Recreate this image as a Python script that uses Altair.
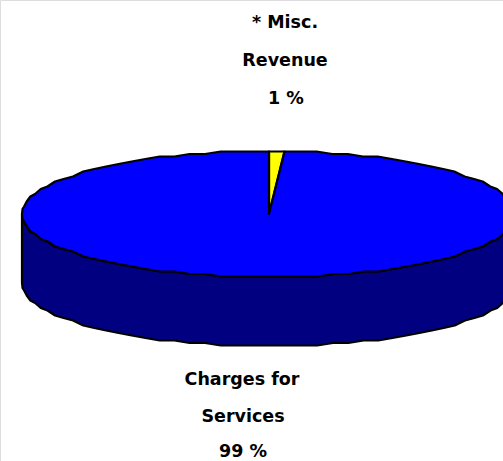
import altair as alt
import numpy as np

# Revenue shares, clockwise from twelve o'clock
categories = ["Misc. Revenue", "Charges for Services"]
shares = [1, 99]
slice_colors = ["#FFFF00", "#0000FF"]
side_color = "#000080"

# Disc proportions: face height / width and rim depth, both as fractions of the radius
FLATTEN = 63 / 247
RIM = 69 / 247
# Rim heights snap to a coarse grid, which gives the outline its stepped edge
GRID = 2.5 / 247
SEGMENTS_PER_TURN = 96

# Text lines with their centre and baseline in pixels
label_lines = [
    ("* Misc.", 285, 28), ("Revenue", 285, 66), ("1 %", 286, 104),
    ("Charges for", 242, 385), ("Services", 243, 422), ("99 %", 243, 457),
]


def rim_point(turn, drop=0.0):
    angle = 2 * np.pi * turn
    x = np.sin(angle)
    y = FLATTEN * np.cos(angle)
    return [float(x), float(np.round(y / GRID) * GRID - drop)]


def polygon(ring, name):
    return {"type": "Feature", "properties": {"name": name},
            "geometry": {"type": "Polygon", "coordinates": [ring + [ring[0]]]}}


def wedge(start, end, name):
    steps = max(2, int(round((end - start) * SEGMENTS_PER_TURN)))
    arc = [rim_point(t) for t in np.linspace(start, end, steps + 1)]
    return polygon([[0.0, 0.0]] + arc, name)


# Front wall of the disc: lower half of the rim swept down by the depth
front = np.linspace(0.25, 0.75, SEGMENTS_PER_TURN // 2 + 1)
wall = [rim_point(t) for t in front] + [rim_point(t, RIM) for t in front[::-1]]

features = [polygon(wall, "side")]
colors = [side_color]
total = sum(shares)
start = 0.0
for name, share, color in zip(categories, shares, slice_colors):
    end = start + share / total
    features.append(wedge(start, end, name))
    colors.append(color)
    start = end

layers = []
for feature, color in zip(features, colors):
    layers.append(
        alt.Chart(alt.Data(values=[feature]))
        .mark_geoshape(fill=color, stroke="#000000", strokeWidth=2.2, strokeJoin="round")
        .project(type="identity", scale=247, translate=[269, 214], reflectY=True)
    )

for text, x, y in label_lines:
    layers.append(
        alt.Chart(alt.Data(values=[{"line": text}]))
        .mark_text(font="DejaVu Sans", fontWeight="bold", fontSize=17.5, color="#000000",
                   align="center", baseline="alphabetic")
        .encode(text="line:N", x=alt.value(x), y=alt.value(y))
    )

chart = (
    alt.layer(*layers)
    .properties(width=503, height=461, padding=0, autosize=alt.AutoSizeParams(type="none"))
    .configure_view(stroke=None)
    .configure(background="#FFFFFF")
)
chart.save("out.html", embed_options={"renderer": "svg", "actions": False})
